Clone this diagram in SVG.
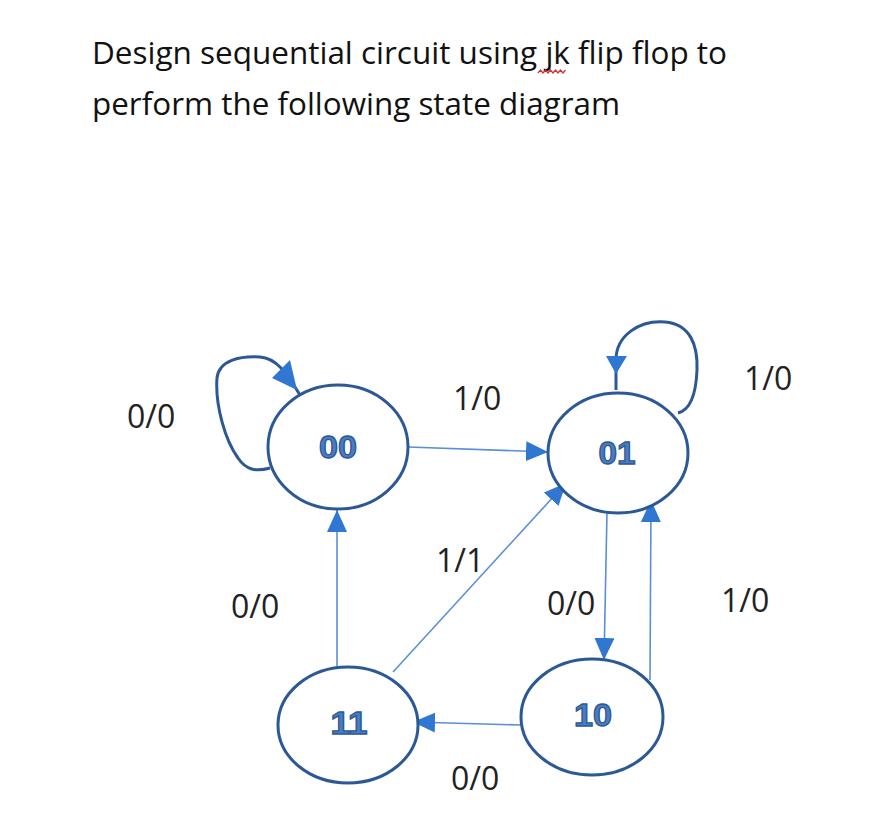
<svg xmlns="http://www.w3.org/2000/svg" width="886" height="836" viewBox="0 0 886 836">
<style>
.title{font-family:"Open Sans","Liberation Sans",sans-serif;font-size:31px;fill:#111}
.lbl{font-family:"Open Sans","Liberation Sans",sans-serif;font-size:32px;fill:#222}
.state ellipse{fill:#fff;stroke:#2C5896;stroke-width:3}
.state text{font-family:"Liberation Sans",sans-serif;font-weight:bold;font-size:32px;fill:#4A7CC0;stroke:#2C5896;stroke-width:1.3;text-anchor:middle}
.edge{stroke:#5A8FD6;stroke-width:1.6;fill:none}
.loop{stroke:#2C5896;stroke-width:3;fill:none}
.head{fill:#2F77D0}
</style>
<defs>
<marker id="ah" viewBox="0 0 22 20" refX="22" refY="10" markerWidth="22" markerHeight="20" markerUnits="userSpaceOnUse" orient="auto">
<path d="M0,0 L22,10 L0,20 z" fill="#2F77D0"/>
</marker>
</defs>
<rect width="886" height="836" fill="#fff"/>
<text class="title" x="92" y="64" textLength="635" lengthAdjust="spacingAndGlyphs">Design sequential circuit using jk flip flop to</text>
<text class="title" x="92" y="115" textLength="528" lengthAdjust="spacingAndGlyphs">perform the following state diagram</text>
<path d="M538,73 l2.5,-3 l2.5,3 l2.5,-3 l2.5,3 l2.5,-3 l2.5,3 l2.5,-3 l2.5,3 l2.5,-3 l2.5,3 l2.5,-3" stroke="#D03030" stroke-width="1.2" fill="none"/>
<g id="connectors">
<path class="edge" d="M408,447 L548,452" marker-end="url(#ah)"/>
<path class="edge" d="M337,667 L337,510" marker-end="url(#ah)"/>
<path class="edge" d="M393,672 L566,483" marker-end="url(#ah)"/>
<path class="edge" d="M607,512 L604,660" marker-end="url(#ah)"/>
<path class="edge" d="M650,680 L651,500" marker-end="url(#ah)"/>
<path class="edge" d="M521,725 L413,722" marker-end="url(#ah)"/>
<path class="loop" d="M270,468 C256,472 246,470 238,458 C225,440 215,405 217,378 C219,360 240,356 260,357 C276,358 286,372 300,395"/>
<polygon class="head" points="297,390 272,378 290,360"/>
<path class="loop" d="M616,390 L616,360 C616,335 640,320 665,322 C690,324 698,345 697,370 C696,395 690,410 678,413"/>
<polygon class="head" points="616,374 606,356 627,356"/>
</g>
<g id="n00" class="state"><ellipse cx="338" cy="447" rx="70" ry="62"/><text x="338" y="458" textLength="38" lengthAdjust="spacingAndGlyphs">00</text></g>
<g id="n01" class="state"><ellipse cx="618" cy="453" rx="70" ry="60"/><text x="617" y="464" textLength="37" lengthAdjust="spacingAndGlyphs">01</text></g>
<g id="n11" class="state"><ellipse cx="348" cy="725" rx="70" ry="58"/><text x="349" y="734" textLength="37" lengthAdjust="spacingAndGlyphs">11</text></g>
<g id="n10" class="state"><ellipse cx="592" cy="717" rx="71" ry="58"/><text x="593" y="726" textLength="38" lengthAdjust="spacingAndGlyphs">10</text></g>
<g id="labels">
<text class="lbl" x="127" y="428">0/0</text>
<text class="lbl" x="453" y="410">1/0</text>
<text class="lbl" x="744" y="390">1/0</text>
<text class="lbl" x="436" y="572">1/1</text>
<text class="lbl" x="231" y="618">0/0</text>
<text class="lbl" x="547" y="615">0/0</text>
<text class="lbl" x="721" y="612">1/0</text>
<text class="lbl" x="451" y="790">0/0</text>
</g>
</svg>
